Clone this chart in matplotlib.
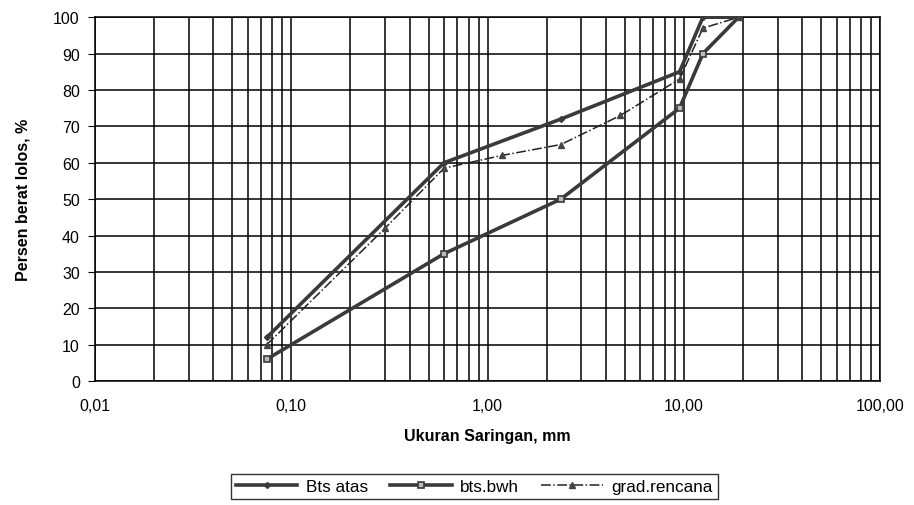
import numpy as np
import matplotlib.pyplot as plt
from matplotlib.ticker import FixedLocator, FixedFormatter, LogLocator, NullFormatter

plt.rcParams['font.family'] = ['Liberation Sans', 'DejaVu Sans']

# sieve sizes (mm) and percent passing
sieve_atas = [0.075, 0.6, 2.36, 9.5, 12.5, 19.0]
bts_atas = [12, 60, 72, 85, 100, 100]

sieve_bwh = [0.075, 0.6, 2.36, 9.5, 12.5, 19.0]
bts_bwh = [6, 35, 50, 75, 90, 100]

sieve_renc = [0.075, 0.3, 0.6, 1.18, 2.36, 4.75, 9.5, 12.5, 19.0]
grad_renc = [10, 42, 58.5, 62, 65, 73, 83, 97, 100]

xticks = [0.01, 0.1, 1, 10, 100]
xtick_labels = ['0,01', '0,10', '1,00', '10,00', '100,00']
yticks = list(range(0, 101, 10))

fig = plt.figure(figsize=(9.14, 5.06), dpi=100)
ax = fig.add_axes([0.104, 0.245, 0.859, 0.719])

dark = '#3a3a3a'
ax.plot(sieve_atas, bts_atas, color=dark, lw=2.6, marker='D', ms=3,
        mfc=dark, mec=dark, label='Bts atas', zorder=4)
ax.plot(sieve_bwh, bts_bwh, color=dark, lw=2.6, marker='s', ms=5,
        mfc='#bbbbbb', mec=dark, mew=1.2, label='bts.bwh', zorder=4)
ax.plot(sieve_renc, grad_renc, color='#222222', lw=1.1, ls='-.', marker='^', ms=5,
        mfc='#444444', mec='#444444', label='grad.rencana', zorder=5)

ax.set_xscale('log')
ax.set_xlim(0.01, 100)
ax.set_ylim(0, 100)
ax.xaxis.set_major_locator(FixedLocator(xticks))
ax.xaxis.set_major_formatter(FixedFormatter(xtick_labels))
ax.xaxis.set_minor_locator(LogLocator(base=10, subs=np.arange(2, 10)))
ax.xaxis.set_minor_formatter(NullFormatter())
ax.set_yticks(yticks)

ax.grid(True, which='both', axis='x', color='black', lw=1.1)
ax.grid(True, which='major', axis='y', color='black', lw=1.1)
for s in ax.spines.values():
    s.set_color('black')
    s.set_linewidth(1.1)

ax.tick_params(axis='x', which='both', length=0, pad=12, labelsize=11.5)
ax.tick_params(axis='y', which='major', length=5, direction='out', pad=6, labelsize=11.5)

ax.set_xlabel('Ukuran Saringan, mm', fontsize=11.5, fontweight='bold', labelpad=11)
ax.set_ylabel('Persen berat lolos, %', fontsize=11.5, fontweight='bold', labelpad=16)

leg = fig.legend(loc='center', bbox_to_anchor=(0.519, 0.036), ncol=3, fontsize=12.3,
                 frameon=True, fancybox=False, edgecolor='black', handlelength=3.6,
                 columnspacing=1.3, handletextpad=0.5, borderpad=0.3)
leg.get_frame().set_linewidth(1.0)

fig.savefig('out.png', dpi=100)
